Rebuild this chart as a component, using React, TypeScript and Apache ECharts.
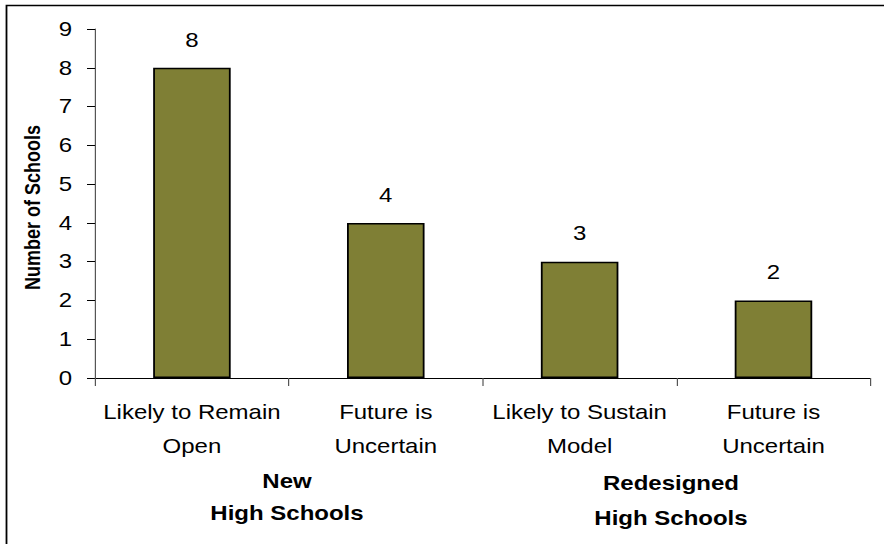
import React, { useEffect, useRef } from "react";
import * as echarts from "echarts";

const categories = [
  "Likely to Remain\nOpen",
  "Future is\nUncertain",
  "Likely to Sustain\nModel",
  "Future is\nUncertain",
];
const values = [8, 4, 3, 2];
const groupLabels = ["New\nHigh Schools", "Redesigned\nHigh Schools"];
const yTitle = "Number of Schools";

const FONT = "Liberation Sans, Arial, sans-serif";
// The reference image is horizontally stretched; render narrower and stretch.
const SX = 1.2;
const W = 884 / SX;
const H = 544;

export default function App() {
  const ref = useRef<HTMLDivElement>(null);
  useEffect(() => {
    document.body.style.margin = "0";
    const chart = echarts.init(ref.current!, null, { renderer: "svg" });
    chart.setOption({
      animation: false,
      backgroundColor: "#fff",
      grid: { left: 95 / SX, right: 14 / SX, top: 29, bottom: 166, containLabel: false },
      xAxis: {
        type: "category",
        data: categories,
        axisLine: { lineStyle: { color: "#000", width: 1 } },
        axisTick: { show: true, interval: 0, length: 8, lineStyle: { color: "#555" } },
        axisLabel: {
          interval: 0,
          hideOverlap: false,
          color: "#000",
          fontFamily: FONT,
          fontSize: 20,
          lineHeight: 34,
          margin: 17,
        },
      },
      yAxis: {
        type: "value",
        min: 0,
        max: 9,
        interval: 1,
        name: yTitle,
        nameLocation: "middle",
        nameGap: 43,
        nameTextStyle: {
          color: "#000",
          fontFamily: FONT,
          fontSize: 18,
          fontWeight: "bold",
          padding: [0, 8, 0, 0],
        },
        axisLine: { show: true, lineStyle: { color: "#555", width: 1 } },
        axisTick: { show: true, length: 8 / SX, inside: false, lineStyle: { color: "#000" } },
        splitLine: { show: false },
        axisLabel: {
          color: "#000",
          fontFamily: FONT,
          fontSize: 20,
          margin: 19,
        },
      },
      series: [
        {
          type: "bar",
          data: values,
          barWidth: "40%",
          itemStyle: { color: "#7f7f35", borderColor: "#000", borderWidth: 1.5 },
          label: {
            show: true,
            position: "top",
            distance: 18,
            color: "#000",
            fontFamily: FONT,
            fontSize: 20,
          },
        },
      ],
      graphic: [
        {
          type: "rect",
          shape: { x: 6.5 / SX, y: 5.5, width: 1000, height: 1000 },
          style: { fill: "none", stroke: "#000", lineWidth: 1.5 },
          silent: true,
        },
        {
          type: "text",
          x: 287 / SX,
          y: 465,
          style: {
            text: groupLabels[0],
            font: `bold 20px ${FONT}`,
            fill: "#000",
            align: "center",
            verticalAlign: "top",
            lineHeight: 32,
          },
        },
        {
          type: "text",
          x: 671 / SX,
          y: 466,
          style: {
            text: groupLabels[1],
            font: `bold 20px ${FONT}`,
            fill: "#000",
            align: "center",
            verticalAlign: "top",
            lineHeight: 35,
          },
        },
      ],
    });
    return () => chart.dispose();
  }, []);
  return (
    <div
      ref={ref}
      style={{
        width: W,
        height: H,
        transform: `scaleX(${SX})`,
        transformOrigin: "0 0",
      }}
    />
  );
}
